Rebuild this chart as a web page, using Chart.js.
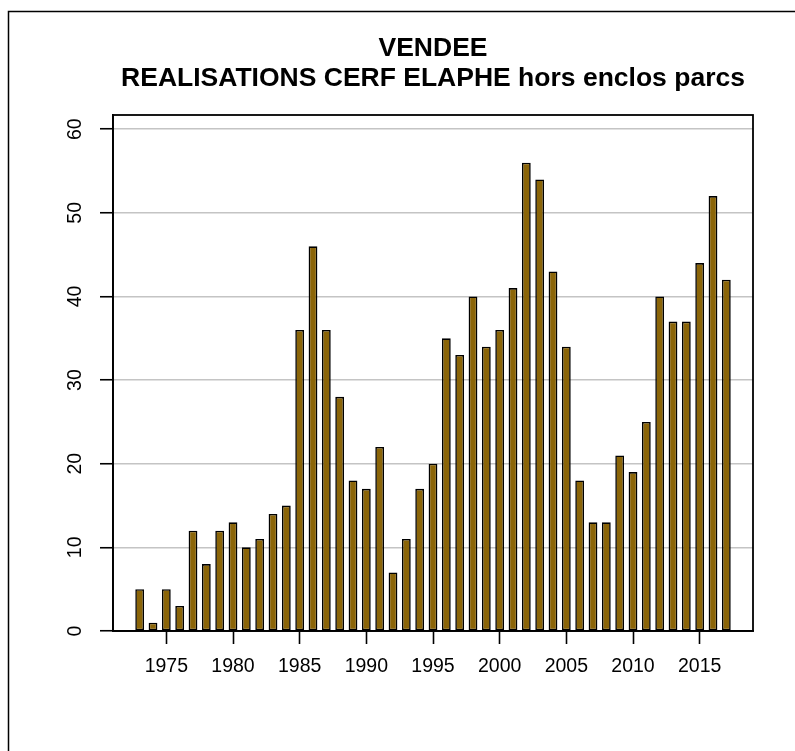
<!DOCTYPE html>
<html>
<head>
<meta charset="utf-8">
<script src="https://cdn.jsdelivr.net/npm/chart.js@4/dist/chart.umd.min.js"></script>
<style>
  html, body { margin: 0; padding: 0; background: #fff; }
  #wrap { position: relative; width: 795px; height: 751px; }
</style>
</head>
<body>
<div id="wrap"><canvas id="chart" width="795" height="751"></canvas></div>
<script>
// données
var titres = ['VENDEE', 'REALISATIONS CERF ELAPHE hors enclos parcs'];
var annees = [1973, 1974, 1975, 1976, 1977, 1978, 1979, 1980, 1981, 1982,
              1983, 1984, 1985, 1986, 1987, 1988, 1989, 1990, 1991, 1992,
              1993, 1994, 1995, 1996, 1997, 1998, 1999, 2000, 2001, 2002,
              2003, 2004, 2005, 2006, 2007, 2008, 2009, 2010, 2011, 2012,
              2013, 2014, 2015, 2016, 2017];
var realisations = [5, 1, 5, 3, 12, 8, 12, 13, 10, 11,
                    14, 15, 36, 46, 36, 28, 18, 17, 22, 7,
                    11, 17, 20, 35, 33, 40, 34, 36, 41, 56,
                    54, 43, 34, 18, 13, 13, 21, 19, 25, 40,
                    37, 37, 44, 52, 42];
var xTicks = [1975, 1980, 1985, 1990, 1995, 2000, 2005, 2010, 2015];
var yTicks = [0, 10, 20, 30, 40, 50, 60];

var FONT = '"Liberation Sans", Arial, Helvetica, sans-serif';

// cadre, titre, labels Y verticaux, boîte du graphique
var decor = {
  id: 'decor',
  afterDraw: function (chart) {
    var ctx = chart.ctx;
    var a = chart.chartArea;
    var ys = chart.scales.y;
    ctx.save();
    // cadre extérieur (coupé à droite et en bas)
    ctx.strokeStyle = '#000';
    ctx.lineWidth = 1.5;
    ctx.beginPath();
    ctx.moveTo(8.5, 751);
    ctx.lineTo(8.5, 11.5);
    ctx.lineTo(795, 11.5);
    ctx.stroke();
    // boîte
    ctx.lineWidth = 1.8;
    ctx.strokeRect(a.left, a.top, a.right - a.left, a.bottom - a.top);
    // titre
    ctx.fillStyle = '#000';
    ctx.textAlign = 'center';
    ctx.textBaseline = 'alphabetic';
    ctx.font = 'bold 26.5px ' + FONT;
    var cx = (a.left + a.right) / 2;
    ctx.fillText(titres[0], cx, 56);
    ctx.fillText(titres[1], cx, 86);
    // labels de l'axe Y, tournés
    ctx.font = '19.5px ' + FONT;
    ctx.textBaseline = 'middle';
    yTicks.forEach(function (v) {
      ctx.save();
      ctx.translate(76, ys.getPixelForValue(v));
      ctx.rotate(-Math.PI / 2);
      ctx.fillText(String(v), 0, 0);
      ctx.restore();
    });
    ctx.restore();
  }
};

new Chart(document.getElementById('chart').getContext('2d'), {
  type: 'bar',
  data: {
    datasets: [{
      data: annees.map(function (a, i) { return { x: a, y: realisations[i] }; }),
      backgroundColor: '#8B6508',
      borderColor: '#000',
      borderWidth: 1.6,
      borderSkipped: false,
      barPercentage: 0.66,
      categoryPercentage: 1
    }]
  },
  options: {
    responsive: false,
    animation: false,
    devicePixelRatio: 1,
    layout: { padding: { left: 0, right: 42, top: 115, bottom: 0 } },
    plugins: { legend: { display: false }, tooltip: { enabled: false }, title: { display: false } },
    scales: {
      x: {
        type: 'linear',
        offset: false,
        min: 1971,
        max: 2019,
        afterBuildTicks: function (s) { s.ticks = xTicks.map(function (v) { return { value: v }; }); },
        afterFit: function (s) { s.height = 120; },
        grid: { offset: false, drawOnChartArea: false, drawTicks: true, tickLength: 13, tickColor: '#000', tickWidth: 1.6 },
        border: { display: true, color: '#000', width: 1.8 },
        ticks: {
          color: '#000', font: { family: FONT, size: 19.5 }, padding: 11, maxRotation: 0, autoSkip: false,
          callback: function (v) { return String(v); }
        }
      },
      y: {
        min: 0,
        max: 61.7,
        afterBuildTicks: function (s) { s.ticks = yTicks.map(function (v) { return { value: v }; }); },
        afterFit: function (s) { s.width = 113; },
        grid: { color: '#c4c4c4', lineWidth: 1.5, drawTicks: true, tickLength: 13, tickColor: '#000', tickWidth: 1.6 },
        border: { display: true, color: '#000', width: 1.8 },
        ticks: { display: false }
      }
    }
  },
  plugins: [decor]
});
</script>
</body>
</html>
